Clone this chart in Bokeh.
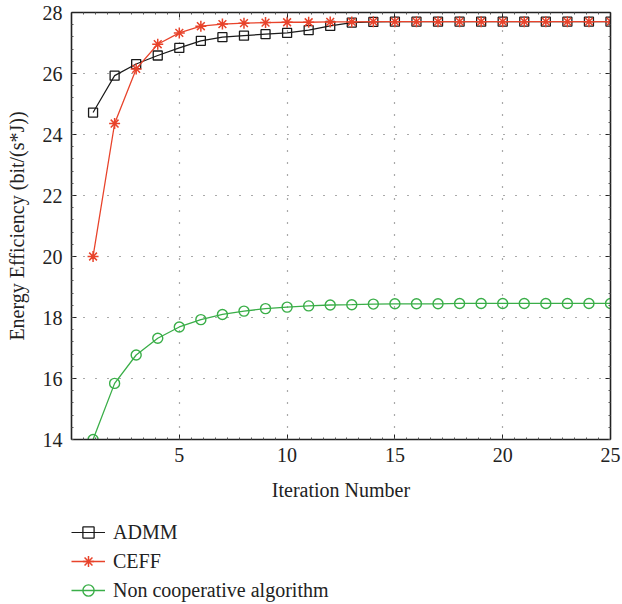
import numpy as np
from bokeh.plotting import figure
from bokeh.layouts import column
from bokeh.models import (Range1d, LinearAxis, FixedTicker, Legend, LegendItem)
from bokeh.embed import file_html
from bokeh.resources import INLINE

iterations = list(range(1, 26))
admm = [24.72, 25.93, 26.31, 26.59, 26.84, 27.07, 27.19, 27.24, 27.29, 27.33,
        27.42, 27.56, 27.67, 27.69, 27.70, 27.70, 27.70, 27.70, 27.70, 27.70,
        27.70, 27.70, 27.70, 27.70, 27.70]
ceff = [20.00, 24.36, 26.15, 26.96, 27.33, 27.55, 27.62, 27.65, 27.67, 27.68,
        27.68, 27.69, 27.69, 27.70, 27.70, 27.70, 27.70, 27.70, 27.70, 27.70,
        27.70, 27.70, 27.70, 27.70, 27.70]
noncoop = [14.00, 15.84, 16.77, 17.32, 17.69, 17.93, 18.10, 18.21, 18.29, 18.34,
           18.38, 18.41, 18.42, 18.44, 18.45, 18.45, 18.45, 18.46, 18.46, 18.46,
           18.46, 18.46, 18.46, 18.46, 18.46]
x_ticks = [5, 10, 15, 20, 25]
y_ticks = [14, 16, 18, 20, 22, 24, 26, 28]
labels = ["ADMM", "CEFF", "Non cooperative algorithm"]

FONT = "Liberation Serif"
FS = "20px"
BLACK = "#1a1a1a"
RED = "#e8432b"
GREEN = "#3aae48"

p = figure(width=622, height=518, output_backend="svg", toolbar_location=None,
           x_range=Range1d(0, 25), y_range=Range1d(14, 28),
           min_border_left=71, min_border_right=12, min_border_top=12,
           min_border_bottom=79)
p.outline_line_color = None
p.background_fill_color = "white"
p.border_fill_color = "white"

bottom = p.below[0]
left = p.left[0]
bottom.axis_label = "Iteration Number"
left.axis_label = "Energy Efficiency (bit/(s*J))"

x_minor = list(np.arange(0, 25.01, 5 / 9))
y_minor = list(np.arange(14, 28.01, 0.4))

xt = FixedTicker(ticks=x_ticks, minor_ticks=x_minor)
yt = FixedTicker(ticks=y_ticks, minor_ticks=y_minor)
bottom.ticker = xt
left.ticker = yt

top = LinearAxis(ticker=FixedTicker(ticks=x_ticks, minor_ticks=x_minor))
right = LinearAxis(ticker=FixedTicker(ticks=y_ticks, minor_ticks=y_minor))
p.add_layout(top, "above")
p.add_layout(right, "right")

for ax in [bottom, left, top, right]:
    ax.axis_line_color = "#222222"
    ax.axis_line_width = 1.6
    ax.major_tick_in = 5
    ax.major_tick_out = 0
    ax.minor_tick_in = 2
    ax.minor_tick_out = 0
    ax.major_tick_line_color = "#222222"
    ax.minor_tick_line_color = "#555555"
    ax.major_label_text_font = FONT
    ax.major_label_text_font_size = FS
    ax.major_label_text_color = "#222222"
    ax.axis_label_text_font = FONT
    ax.axis_label_text_font_size = FS
    ax.axis_label_text_font_style = "normal"
    ax.axis_label_text_color = "#222222"
for ax in [top, right]:
    ax.major_label_text_font_size = "0px"
    ax.major_label_text_color = None

bottom.major_label_standoff = 8
bottom.axis_label_standoff = 14
left.major_label_standoff = 9
left.axis_label_standoff = 12

p.grid.grid_line_color = "#555555"
p.grid.grid_line_dash = "1 11"
p.grid.grid_line_width = 1.2
p.xgrid.ticker = xt
p.ygrid.ticker = yt


def draw(fig, visible=True):
    r = []
    r.append(fig.line(iterations, admm, line_color=BLACK, line_width=1.2, visible=visible))
    r.append(fig.scatter(iterations, admm, marker="square", size=9, line_color=BLACK,
                         fill_color=None, line_width=1.3, visible=visible))
    r.append(fig.line(iterations, ceff, line_color=RED, line_width=1.3, visible=visible))
    r.append(fig.scatter(iterations, ceff, marker="asterisk", size=11, line_color=RED,
                         line_width=1.5, visible=visible))
    r.append(fig.line(iterations, noncoop, line_color=GREEN, line_width=1.3, visible=visible))
    r.append(fig.scatter(iterations, noncoop, marker="circle", size=10, line_color=GREEN,
                         fill_color=None, line_width=1.4, visible=visible))
    return r


draw(p)

# legend figure below the plot (holds the legend only)
lf = figure(width=622, height=86, output_backend="svg", toolbar_location=None,
            x_range=Range1d(0, 25), y_range=Range1d(14, 28),
            min_border_left=70, min_border_right=0, min_border_top=0,
            min_border_bottom=0)
lf.axis.visible = False
lf.grid.visible = False
lf.outline_line_color = None
lr = draw(lf, visible=False)

legend = Legend(items=[LegendItem(label=labels[0], renderers=[lr[0], lr[1]]),
                       LegendItem(label=labels[1], renderers=[lr[2], lr[3]]),
                       LegendItem(label=labels[2], renderers=[lr[4], lr[5]])],
                location="top_left", orientation="vertical")
legend.label_text_font = FONT
legend.label_text_font_size = FS
legend.label_text_color = "#222222"
legend.border_line_color = None
legend.background_fill_alpha = 0
legend.padding = 0
legend.margin = 0
legend.spacing = 1
legend.glyph_width = 34
legend.glyph_height = 28
legend.label_height = 28
legend.label_standoff = 8
lf.add_layout(legend, "center")

layout = column(p, lf, spacing=0)
open("out.html", "w").write(file_html(layout, INLINE))
